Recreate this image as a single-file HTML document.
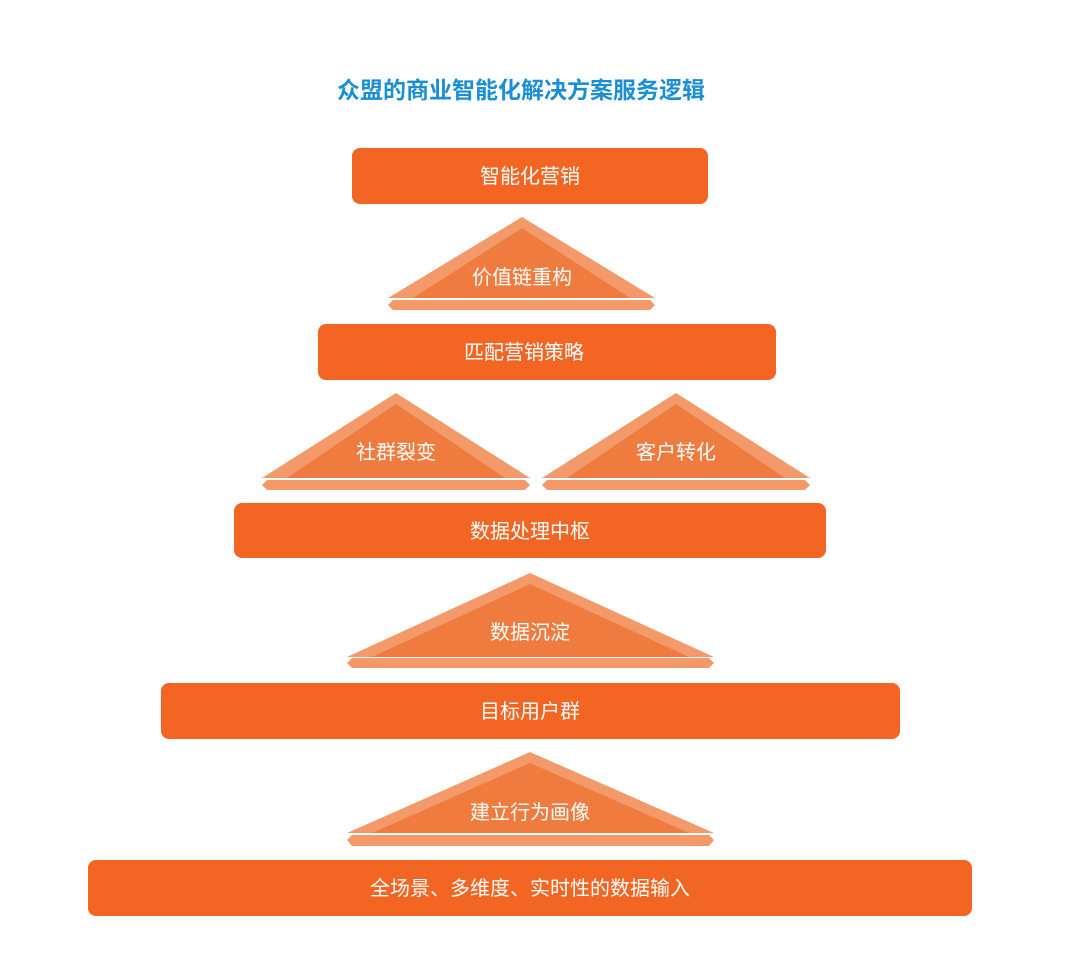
<!DOCTYPE html>
<html><head><meta charset="utf-8"><style>
html,body{margin:0;padding:0;background:#fff;}
svg{display:block;}
text{font-family:"Liberation Sans","Noto Sans CJK SC",sans-serif;}
</style></head><body>
<svg width="1080" height="966" viewBox="0 0 1080 966" xmlns="http://www.w3.org/2000/svg">
<text x="521" y="98" text-anchor="middle" font-size="23" font-weight="bold" fill="#1a8fd6">众盟的商业智能化解决方案服务逻辑</text>
<g fill="#f26522">
<rect x="352" y="148" width="356" height="56" rx="8"/>
<rect x="318" y="324" width="458" height="56" rx="8"/>
<rect x="234" y="503" width="592" height="55" rx="8"/>
<rect x="161" y="683" width="739" height="56" rx="8"/>
<rect x="88" y="860" width="884" height="56" rx="8"/>
</g>
<g fill="#f3996a">
<polygon points="388,298 522,217 655,298"/>
<polygon points="388,305 393,300 650,300 655,305 650,310 393,310"/>
<polygon points="262,478 396,393 530,478"/>
<polygon points="262,485 267,480 525,480 530,485 525,490 267,490"/>
<polygon points="542,478 676,393 810,478"/>
<polygon points="542,485 547,480 805,480 810,485 805,490 547,490"/>
<polygon points="347,657 530,573 714,657"/>
<polygon points="347,663 352,658 709,658 714,663 709,668 352,668"/>
<polygon points="347,833 530,752 714,833"/>
<polygon points="347,840 352,835 709,835 714,840 709,846 352,846"/>
</g>
<g fill="#f07b3e">
<polygon points="413,298 522,228 630,298"/>
<polygon points="287,478 396,404 505,478"/>
<polygon points="567,478 676,404 785,478"/>
<polygon points="372,657 530,584 689,657"/>
<polygon points="372,833 530,763 689,833"/>
</g>
<g fill="#fff" font-size="20" text-anchor="middle">
<text x="530" y="183">智能化营销</text>
<text x="522" y="284">价值链重构</text>
<text x="524" y="359">匹配营销策略</text>
<text x="396" y="459">社群裂变</text>
<text x="676" y="459">客户转化</text>
<text x="530" y="538">数据处理中枢</text>
<text x="530" y="639">数据沉淀</text>
<text x="530" y="718">目标用户群</text>
<text x="530" y="819">建立行为画像</text>
<text x="530" y="895">全场景、多维度、实时性的数据输入</text>
</g>
</svg>
</body></html>
